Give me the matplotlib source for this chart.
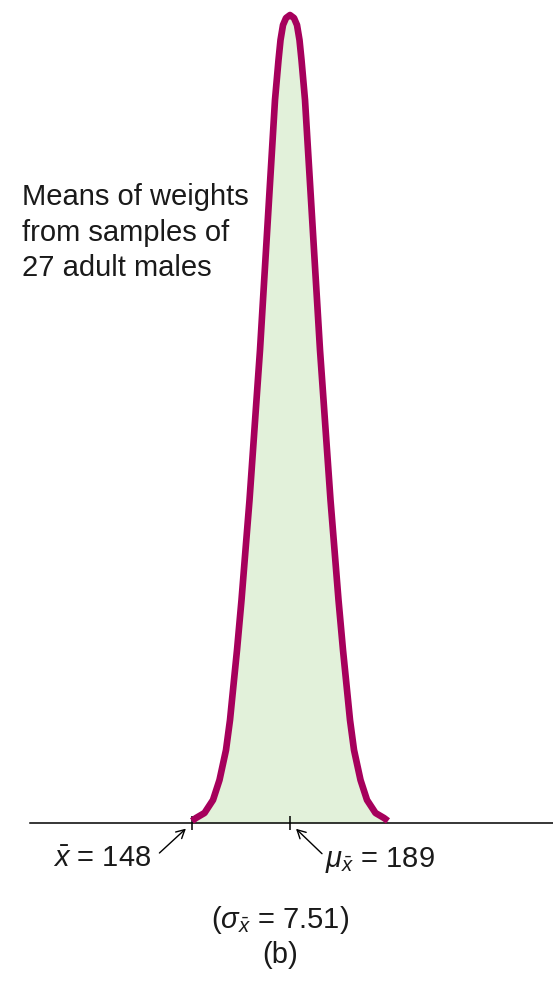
"""重绘教材风格的样本均值抽样分布示意图 (b)。"""

import matplotlib

matplotlib.use("Agg")
import matplotlib.pyplot as plt

plt.rcParams["font.family"] = ["Liberation Sans", "DejaVu Sans"]
plt.rcParams["mathtext.fontset"] = "custom"
plt.rcParams["mathtext.rm"] = "Liberation Sans"
plt.rcParams["mathtext.it"] = "Liberation Sans:italic"

# 曲线轮廓：点（横轴为体重，纵轴为相对高度），左侧上升、右侧下降
curve_x = [148.0, 149.67, 153.23, 156.79, 159.50, 162.22, 163.90, 164.73, 166.83, 168.71,
           170.38, 172.06, 173.52, 174.98, 176.45, 177.70, 178.96, 180.21, 181.47, 182.72,
           184.19, 185.03, 186.07, 187.33, 189.0,
           190.67, 191.93, 192.97, 193.81, 195.28, 196.53, 197.79, 199.04, 200.30, 201.55,
           203.02, 204.48, 205.94, 207.62, 209.29, 211.17, 213.27, 214.10, 215.78, 218.50,
           221.21, 224.77, 228.33, 230.0]
curve_y = [0.0025, 0.0062, 0.0124, 0.0285, 0.0532, 0.0903, 0.1275, 0.1522, 0.2141, 0.2760,
           0.3379, 0.3998, 0.4616, 0.5235, 0.5854, 0.6473, 0.7092, 0.7710, 0.8329, 0.8948,
           0.9443, 0.9691, 0.9876, 0.9963, 1.0,
           0.9963, 0.9876, 0.9691, 0.9443, 0.8948, 0.8329, 0.7710, 0.7092, 0.6473, 0.5854,
           0.5235, 0.4616, 0.3998, 0.3379, 0.2760, 0.2141, 0.1522, 0.1275, 0.0903, 0.0532,
           0.0285, 0.0124, 0.0062, 0.0025]

sample_mean = 148
pop_mean = 189
sigma_text = "7.51"
label_text = "Means of weights\nfrom samples of\n27 adult males"
panel_text = "(b)"

LINE_COLOR = "#A6005C"
FILL_COLOR = "#E2F1DA"
TEXT_COLOR = "#1a1a1a"

# 画布像素到数据坐标的映射（148 在 192px，189 在 290px）
X_LEFT, X_RIGHT = 67.67, 299.03
Y_BOTTOM, Y_TOP = -0.2005, 1.0186


def main():
    fig = plt.figure(figsize=(5.53, 9.85), dpi=100)
    ax = fig.add_axes([0, 0, 1, 1])
    ax.set_xlim(X_LEFT, X_RIGHT)
    ax.set_ylim(Y_BOTTOM, Y_TOP)
    ax.axis("off")

    ax.fill_between(curve_x, curve_y, 0, color=FILL_COLOR, linewidth=0, zorder=1)
    ax.axhline(0, xmin=30 / 553, xmax=1.0, color="black", linewidth=1.1, zorder=2)
    ax.vlines([sample_mean, pop_mean], -0.0092, 0.0082, color="black", linewidth=1.1, zorder=2)
    ax.plot(curve_x, curve_y, color=LINE_COLOR, linewidth=4.8,
            solid_joinstyle="round", solid_capstyle="butt", zorder=3)

    arrow = dict(arrowstyle="->,head_length=0.6,head_width=0.32", color="black",
                 linewidth=1.0, shrinkA=0, shrinkB=6, mutation_scale=10)
    ax.annotate("", xy=(sample_mean, 0), xytext=(-32.6, -30),
                textcoords="offset pixels", arrowprops=arrow)
    ax.annotate("", xy=(pop_mean, 0), xytext=(32, -30.7),
                textcoords="offset pixels", arrowprops=arrow)

    fs = 21
    ax.annotate(r"$\bar{x}$ = " + str(sample_mean), xy=(sample_mean, 0), xytext=(-40.6, -44),
                textcoords="offset pixels", ha="right", va="baseline", fontsize=fs,
                color=TEXT_COLOR)
    ax.annotate(r"$\mu_{\bar{x}}$ = " + str(pop_mean), xy=(pop_mean, 0), xytext=(35.3, -44),
                textcoords="offset pixels", ha="left", va="baseline", fontsize=fs,
                color=TEXT_COLOR)
    ax.annotate(r"($\sigma_{\bar{x}}$ = " + sigma_text + ")", xy=(pop_mean, 0),
                xytext=(-10.2, -105), textcoords="offset pixels", ha="center",
                va="baseline", fontsize=fs, color=TEXT_COLOR)
    ax.annotate(panel_text, xy=(pop_mean, 0), xytext=(-9.7, -139.7),
                textcoords="offset pixels", ha="center", va="baseline", fontsize=fs,
                color=TEXT_COLOR)

    # 多行文字 baseline 对齐的是最后一行
    ax.text(21.7 / 553, 1 - 276 / 985, label_text, transform=ax.transAxes,
            ha="left", va="baseline", fontsize=fs, linespacing=1.33, color=TEXT_COLOR)

    fig.savefig("out.png", dpi=100)
    plt.close(fig)


if __name__ == "__main__":
    main()
